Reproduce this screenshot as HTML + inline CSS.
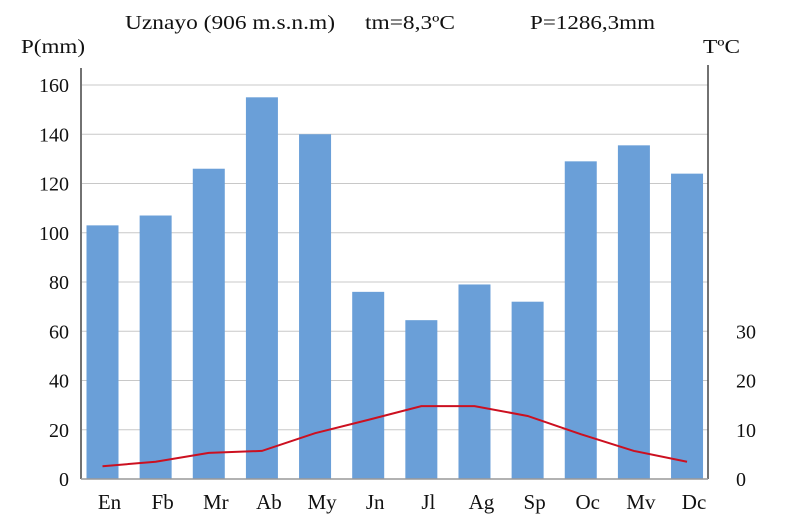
<!DOCTYPE html>
<html><head><meta charset="utf-8"><style>
body{margin:0;background:#fff}
svg text{font-family:"Liberation Serif",serif;fill:#111}
</style></head><body>
<svg id="c" width="800" height="525" xmlns="http://www.w3.org/2000/svg">
<text x="125" y="29" font-size="20" textLength="210" lengthAdjust="spacingAndGlyphs">Uznayo (906 m.s.n.m)</text>
<text x="365" y="29" font-size="20" textLength="90" lengthAdjust="spacingAndGlyphs">tm=8,3ºC</text>
<text x="530" y="29" font-size="20" textLength="125" lengthAdjust="spacingAndGlyphs">P=1286,3mm</text>
<text x="21" y="53" font-size="20" textLength="64" lengthAdjust="spacingAndGlyphs">P(mm)</text>
<text x="703" y="53" font-size="20" textLength="37" lengthAdjust="spacingAndGlyphs">TºC</text>
<g id="grid"></g><g id="bars"></g><g id="axes"></g><g id="line"></g><g id="labels"></g>
</svg>
<script>
const months=["En","Fb","Mr","Ab","My","Jn","Jl","Ag","Sp","Oc","Mv","Dc"];
const precip=[103,107,126,155,140,76,64.5,79,72,129,135.5,124];
const temp=[2.6,3.5,5.3,5.7,9.3,12,14.8,14.8,12.8,9.1,5.7,3.5];
const pTicks=[0,20,40,60,80,100,120,140,160];
const tTicks=[0,10,20,30];
const NS="http://www.w3.org/2000/svg";
const x0=82,x1=708,y0=479;
const yP=v=>y0-v*2.4625, yT=v=>y0-v*4.925;
const xC=i=>102.5+i*53.14;
function mk(t,a,p){const e=document.createElementNS(NS,t);for(const k in a)e.setAttribute(k,a[k]);document.getElementById(p).appendChild(e);return e;}
pTicks.forEach(v=>{if(v>0){const g=mk('line',{x1:x0,x2:x1,y1:yP(v),y2:yP(v),stroke:'#c8c8c8','stroke-width':1},'grid');

}
const t=mk('text',{x:69,y:yP(v)+7,'font-size':20,'text-anchor':'end'},'labels');t.textContent=v;

});
tTicks.forEach(v=>{const t=mk('text',{x:736,y:yT(v)+7,'font-size':20},'labels');t.textContent=v;

});
precip.forEach((v,i)=>{const r=mk('rect',{x:xC(i)-16,y:yP(v),width:32,height:y0-yP(v),fill:'#6a9fd8'},'bars');


const t=mk('text',{x:xC(i)+7,y:509,'font-size':21,'text-anchor':'middle'},'labels');t.textContent=months[i];

});
let a=mk('line',{x1:81,x2:81,y1:68,y2:y0,stroke:'#444','stroke-width':1.5},'axes');


a=mk('line',{x1:708,x2:708,y1:65,y2:y0,stroke:'#444','stroke-width':1.5},'axes');


a=mk('line',{x1:81,x2:708,y1:y0,y2:y0,stroke:'#999','stroke-width':1.5},'axes');


const l=mk('polyline',{points:temp.map((v,i)=>xC(i)+','+yT(v)).join(' '),fill:'none',stroke:'#cc1020','stroke-width':2},'line');


</script>
</body></html>
